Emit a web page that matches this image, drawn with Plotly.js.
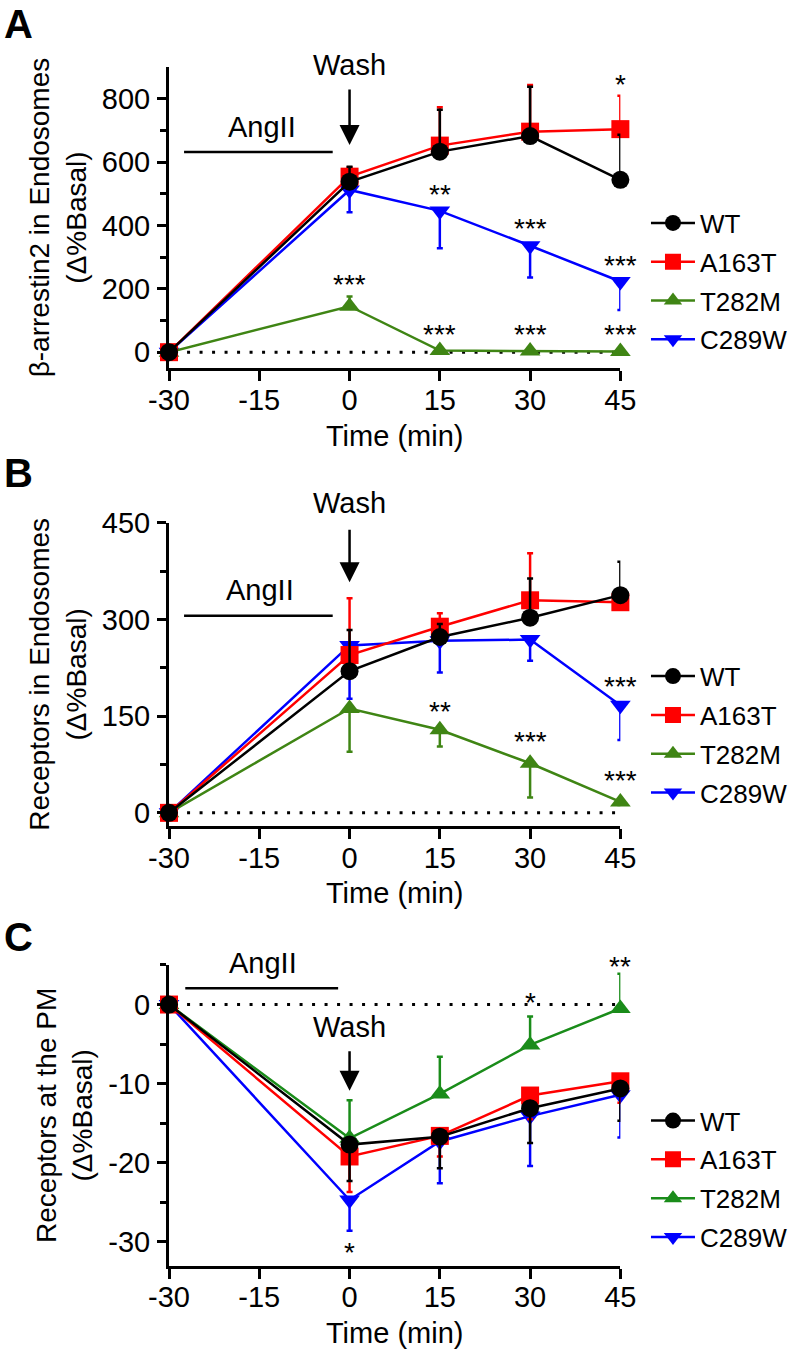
<!DOCTYPE html>
<html>
<head>
<meta charset="utf-8">
<script src="https://cdn.plot.ly/plotly-3.0.1.min.js"></script>
<style>html,body{margin:0;padding:0;background:#fff;}#chart{width:798px;height:1357px;}</style>
</head>
<body>
<div id="chart"></div>
<script>
// ---------- data ----------
const timePoints = [-30, 0, 15, 30, 45];
const seriesNames = ['WT', 'A163T', 'T282M', 'C289W'];
const xTickVals = [-30, -15, 0, 15, 30, 45];

// Panel A: beta-arrestin2 in endosomes
const aWT = [0, 538, 633, 682, 544];
const aWTerr = [0, 47, 132, 156, 142];
const aA163T = [0, 554, 652, 696, 704];
const aA163Terr = [0, 30, 121, 147, 105];
const aT282M = [0, 145, 5, 4, 2];
const aT282Merr = [0, 31, 0, 0, 0];
const aC289W = [0, 512, 446, 336, 223];
const aC289Werr = [0, 70, 118, 100, 90];
const aYTicks = [0, 200, 400, 600, 800];
const aStars = [[0, 234, '***'], [15, 518, '**'], [15, 76, '***'], [30, 408, '***'], [30, 76, '***'], [45, 865, '*'], [45, 294, '***'], [45, 76, '***']];

// Panel B: receptors in endosomes
const bWT = [0, 220, 273, 303, 338];
const bWTerr = [0, 64, 20, 61, 52];
const bA163T = [0, 245, 289, 330, 327];
const bA163Terr = [0, 88, 21, 73, 10];
const bT282M = [0, 162, 129, 77, 17];
const bT282Merr = [0, 67, 26, 53, 5];
const bC289W = [0, 260, 267, 269, 167];
const bC289Werr = [0, 83, 49, 33, 54];
const bYTicks = [0, 150, 300, 450];
const bStars = [[15, 167, '**'], [30, 120, '***'], [45, 205, '***'], [45, 60, '***']];

// Panel C: receptors at the PM
const cWT = [0, -17.7, -16.7, -13.1, -10.6];
const cWTerr = [0, 4.6, 4.0, 4.4, 4.1];
const cA163T = [0, -19.2, -16.6, -11.5, -9.7];
const cA163Terr = [0, 4.5, 2.6, 3.0, 2.7];
const cT282M = [0, -16.9, -11.3, -5.1, -0.5];
const cT282Merr = [0, 4.8, 4.7, 3.6, 4.4];
const cC289W = [0, -24.7, -17.3, -14.1, -11.4];
const cC289Werr = [0, 3.9, 5.3, 6.3, 5.4];
const cYTicks = [0, -10, -20, -30];
const cStars = [[0, -30.6, '*'], [30, 1.0, '*'], [45, 5.6, '**']];

// ---------- style ----------
const FONT = 'Liberation Sans, Arial, Helvetica, sans-serif';
const colorsAB = ['#000000', '#ff0000', '#3f8514', '#0000ff'];
const colorsC = ['#000000', '#ff0000', '#1a8c1a', '#0000ff'];
const symbols = ['circle', 'square', 'triangle-up', 'triangle-down'];

const panels = [
  {key: '', series: [aWT, aA163T, aT282M, aC289W], errs: [aWTerr, aA163Terr, aT282Merr, aC289Werr], dirs: [1, 1, 1, -1],
   colors: colorsAB, yrange: [-50, 900], yticks: aYTicks, minor: [100, 300, 500, 700],
   ytitle: 'β-arrestin2 in Endosomes<br>(Δ%Basal)', ydom: [0.7288, 0.9506], stars: aStars,
   washY: 0.9521, washTip: 654, washLen: 57, angY: 0.9064, angLine: [-27.5, -2.8, 632], angX: -14.5,
   legendY: 0.853, letter: 'A', letterY: 0.9823},
  {key: '2', series: [bWT, bA163T, bT282M, bC289W], errs: [bWTerr, bA163Terr, bT282Merr, bC289Werr], dirs: [1, 1, -1, -1],
   colors: colorsAB, yrange: [-20, 450], yticks: bYTicks, minor: [75, 225, 375],
   ytitle: 'Receptors in Endosomes<br>(Δ%Basal)', ydom: [0.3915, 0.6146], stars: bStars,
   washY: 0.6293, washTip: 358, washLen: 54, angY: 0.5652, angLine: [-27.5, -2.8, 306], angX: -14.9,
   legendY: 0.519, letter: 'B', letterY: 0.6514},
  {key: '3', series: [cWT, cA163T, cT282M, cC289W], errs: [cWTerr, cA163Terr, cT282Merr, cC289Werr], dirs: [-1, -1, 1, -1],
   colors: colorsC, yrange: [-33, 5], yticks: cYTicks, minor: [5, -5, -15, -25],
   ytitle: 'Receptors at the PM<br>(Δ%Basal)', ydom: [0.0673, 0.2889], stars: cStars,
   washY: 0.2432, washTip: -10.9, washLen: 41, angY: 0.2903, angLine: [-27.3, -1.9, 2.06], angX: -14.4,
   legendY: 0.1915, letter: 'C', letterY: 0.3095}
];

const traces = [];
const annotations = [];
const shapes = [];
const layout = {
  width: 798, height: 1357,
  margin: {l: 0, r: 0, t: 0, b: 0},
  paper_bgcolor: '#ffffff', plot_bgcolor: '#ffffff',
  font: {family: FONT, color: '#000000', size: 29},
  showlegend: true,
  annotations: annotations, shapes: shapes
};

panels.forEach((p, pi) => {
  const xa = 'x' + p.key, ya = 'y' + p.key;
  const legendId = 'legend' + p.key;
  // draw order: C289W, T282M, A163T, WT (WT on top)
  [3, 2, 1, 0].forEach(si => {
    const vals = p.series[si];
    const err = p.errs[si];
    const zeros = err.map(() => 0);
    traces.push({
      type: 'scatter', mode: 'lines+markers',
      x: timePoints, y: vals, name: seriesNames[si],
      xaxis: xa, yaxis: ya, legend: legendId,
      legendgroup: 'g' + pi + '_' + si, legendrank: si + 1,
      cliponaxis: false,
      line: {color: p.colors[si], width: 2.5},
      marker: {color: p.colors[si], symbol: symbols[si], size: 18, line: {width: 0}},
      error_y: {type: 'data', symmetric: false,
        array: p.dirs[si] > 0 ? err : zeros,
        arrayminus: p.dirs[si] < 0 ? err : zeros,
        color: p.colors[si], thickness: 2.5, width: 3},
      hoverinfo: 'x+y+name'
    });
  });

  layout['xaxis' + p.key] = {
    domain: [0.2118, 0.7774], anchor: ya, range: [-30, 45],
    tickvals: xTickVals, ticktext: xTickVals.map(String),
    showline: true, linewidth: 3, linecolor: '#000', mirror: false,
    ticks: 'outside', ticklen: 10, tickwidth: 3, tickcolor: '#000',
    ticklabelstandoff: -6,
    showgrid: false, zeroline: false,
    tickfont: {size: 29, family: FONT, color: '#000'},
    title: {text: 'Time (min)', font: {size: 29, family: FONT, color: '#000'}, standoff: 11},
    fixedrange: true
  };
  layout['yaxis' + p.key] = {
    domain: p.ydom, anchor: xa, range: p.yrange,
    tickvals: p.yticks, ticktext: p.yticks.map(String),
    showline: true, linewidth: 3, linecolor: '#000',
    ticks: 'outside', ticklen: 9, tickwidth: 3, tickcolor: '#000',
    ticklabelstandoff: 1,
    minor: {tickvals: p.minor, ticks: 'outside', ticklen: 6, tickwidth: 3, tickcolor: '#000', showgrid: false},
    showgrid: false, zeroline: false,
    tickfont: {size: 29, family: FONT, color: '#000'},
    title: {text: p.ytitle, font: {size: 28, family: FONT, color: '#000'}, standoff: 8},
    fixedrange: true
  };
  layout[legendId] = {
    x: 0.8095, y: p.legendY, xanchor: 'left', yanchor: 'top',
    font: {size: 26, family: FONT, color: '#000'},
    bgcolor: 'rgba(0,0,0,0)', borderwidth: 0,
    traceorder: 'grouped', tracegroupgap: 2, itemwidth: 44
  };

  // dotted baseline at 0
  shapes.push({type: 'line', xref: xa, yref: ya, x0: -27, x1: 45, y0: 0, y1: 0,
    line: {color: '#000', width: 3, dash: '3px,9.5px'}, layer: 'below'});
  // AngII bar
  shapes.push({type: 'line', xref: xa, yref: ya, x0: p.angLine[0], x1: p.angLine[1], y0: p.angLine[2], y1: p.angLine[2],
    line: {color: '#000', width: 2.5}});
  annotations.push({xref: xa, yref: 'paper', x: p.angX, y: p.angY, text: 'AngII', showarrow: false,
    font: {size: 29, family: FONT, color: '#000'}, xanchor: 'center', yanchor: 'middle'});
  // Wash text + arrow
  annotations.push({xref: xa, yref: 'paper', x: 0, y: p.washY, text: 'Wash', showarrow: false,
    font: {size: 29, family: FONT, color: '#000'}, xanchor: 'center', yanchor: 'middle'});
  annotations.push({xref: xa, yref: ya, x: 0, y: p.washTip, text: '', showarrow: true,
    ax: 0, ay: -p.washLen, arrowhead: 2, arrowsize: 1.6, arrowwidth: 2.5, arrowcolor: '#000'});
  // significance stars
  p.stars.forEach(s => {
    const over = s[1] > p.yrange[1];
    annotations.push({xref: xa, yref: over ? ya + ' domain' : ya,
      x: s[0], y: over ? (s[1] - p.yrange[0]) / (p.yrange[1] - p.yrange[0]) : s[1],
      text: s[2], showarrow: false, yshift: -6,
      font: {size: 28, family: FONT, color: '#000'}, xanchor: 'center', yanchor: 'middle'});
  });
  // panel letter
  annotations.push({xref: 'paper', yref: 'paper', x: 0.0226, y: p.letterY, text: '<b>' + p.letter + '</b>',
    showarrow: false, font: {size: 40, family: FONT, color: '#000'}, xanchor: 'center', yanchor: 'middle'});
});

Plotly.newPlot('chart', traces, layout, {displayModeBar: false, staticPlot: true});
</script>
</body>
</html>
